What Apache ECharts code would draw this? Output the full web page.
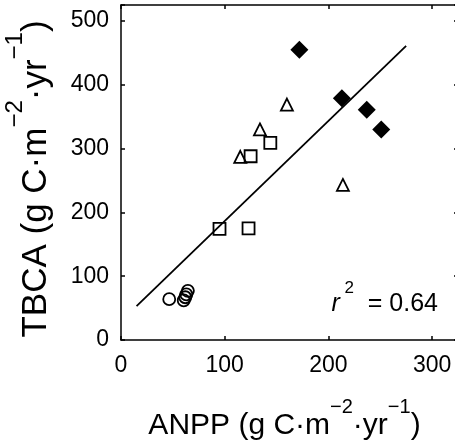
<!DOCTYPE html>
<html>
<head>
<meta charset="utf-8">
<script src="https://cdn.jsdelivr.net/npm/echarts@6/dist/echarts.min.js"></script>
<style>
html,body{margin:0;padding:0;background:#fff;}
#chart{width:455px;height:442px;}
</style>
</head>
<body>
<div id="chart"></div>
<script>
// ---- data ----
const diamondX = [172, 213, 237, 251];
const diamondY = [455, 379, 361, 330];
const triangleX = [160, 134, 115, 214];
const triangleY = [369, 330, 287, 243];
const squareX = [144, 125, 95, 123];
const squareY = [309, 288, 174, 175];
const circleX = [46.5, 60.5, 62, 63, 64.5];
const circleY = [64, 62, 67, 71.5, 77];
const fitX = [15, 275];
const fitY = [53, 461];
const xTickLabels = [0, 100, 200, 300];
const yTickLabels = [0, 100, 200, 300, 400, 500];
const r2Text = '0.64';

const FONT = "'Liberation Sans', Arial, Helvetica, sans-serif";
const BLACK = '#000';

function pairs(xs, ys) { return xs.map((x, i) => [x, ys[i]]); }

const xNameRich = {
  a: { fontSize: 30, fontFamily: FONT, color: BLACK, lineHeight: 44, verticalAlign: 'bottom' },
  s: { fontSize: 20, fontFamily: FONT, color: BLACK, lineHeight: 20, verticalAlign: 'top' }
};
const yNameRich = {
  a: { fontSize: 35, fontFamily: FONT, color: BLACK, lineHeight: 51, verticalAlign: 'bottom' },
  s: { fontSize: 24, fontFamily: FONT, color: BLACK, lineHeight: 24, verticalAlign: 'top' }
};

const axisLine = { show: true, onZero: false, lineStyle: { color: BLACK, width: 1.5 } };
const axisTick = { show: true, inside: true, length: 4, lineStyle: { color: BLACK, width: 1.5 } };
const openStyle = { color: 'rgba(0,0,0,0)', borderColor: BLACK, borderWidth: 1.8, opacity: 1 };

const chart = echarts.init(document.getElementById('chart'), null, { renderer: 'canvas' });
chart.setOption({
  animation: false,
  backgroundColor: '#fff',
  grid: { left: 121, top: 5, right: -3, bottom: 102, containLabel: false, outerBoundsMode: 'none' },
  xAxis: [{
    type: 'value', position: 'bottom', min: 0, max: 325, interval: 100,
    axisLine, axisTick, splitLine: { show: false },
    axisLabel: {
      margin: 14, fontSize: 23, fontFamily: FONT, color: BLACK,
      formatter: v => xTickLabels.includes(v) ? String(v) : ''
    },
    name: '{a|ANPP (g C·m}{s|−2}{a|·yr}{s|−1}{a|)}',
    nameLocation: 'middle', nameGap: 57,
    nameTextStyle: { rich: xNameRich, padding: [0, 10, 0, 0] }
  }, {
    type: 'value', position: 'top', min: 0, max: 325, interval: 100,
    axisLine, axisTick, splitLine: { show: false }, axisLabel: { show: false }
  }],
  yAxis: [{
    type: 'value', position: 'left', min: 0, max: 525, interval: 100,
    axisLine, axisTick, splitLine: { show: false },
    axisLabel: {
      margin: 12, fontSize: 23, fontFamily: FONT, color: BLACK,
      formatter: v => yTickLabels.includes(v) ? String(v) : ''
    },
    name: '{a|TBCA (g C·m}{s|−2}{a|·yr}{s|−1}{a|)}',
    nameLocation: 'middle', nameGap: 67,
    nameTextStyle: { rich: yNameRich, padding: [0, 13, 0, 0] }
  }, {
    type: 'value', position: 'right', min: 0, max: 525, interval: 100,
    axisLine, axisTick, splitLine: { show: false }, axisLabel: { show: false }
  }],
  series: [
    {
      type: 'line', data: pairs(fitX, fitY), symbol: 'none', silent: true,
      lineStyle: { color: BLACK, width: 1.8 }, z: 1
    },
    {
      type: 'scatter', data: pairs(circleX, circleY), symbol: 'circle', symbolSize: 12,
      itemStyle: openStyle, z: 2
    },
    {
      type: 'scatter', data: pairs(squareX, squareY), symbol: 'rect', symbolSize: 12,
      itemStyle: openStyle, z: 2
    },
    {
      type: 'scatter', data: pairs(triangleX, triangleY), symbol: 'triangle', symbolSize: 12,
      itemStyle: openStyle, z: 2
    },
    {
      type: 'scatter', data: pairs(diamondX, diamondY), symbol: 'diamond', symbolSize: 18,
      itemStyle: { color: BLACK, borderWidth: 0, opacity: 1 }, z: 3
    }
  ],
  graphic: [{
    type: 'text', right: 17, top: 280,
    style: {
      text: '{i|r}{s| 2}{n|  = ' + r2Text + '}',
      rich: {
        i: { fontSize: 25, fontStyle: 'italic', fontFamily: FONT, fill: BLACK, color: BLACK, lineHeight: 37, verticalAlign: 'bottom' },
        s: { fontSize: 17, fontFamily: FONT, fill: BLACK, color: BLACK, lineHeight: 17, verticalAlign: 'top' },
        n: { fontSize: 25, fontFamily: FONT, fill: BLACK, color: BLACK, lineHeight: 37, verticalAlign: 'bottom' }
      }
    }
  }]
});
</script>
</body>
</html>
